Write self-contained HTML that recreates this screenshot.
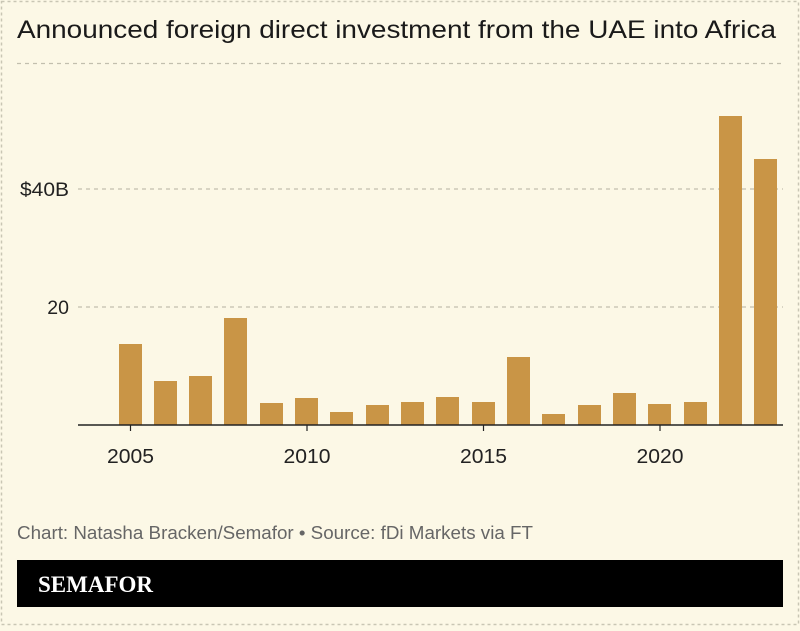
<!DOCTYPE html>
<html><head><meta charset="utf-8"><style>
body{margin:0;width:800px;height:626px;background:#fcf8e6;overflow:hidden;font-family:"Liberation Sans",sans-serif;}
</style></head><body>
<svg width="800" height="626" viewBox="0 0 800 626" xmlns="http://www.w3.org/2000/svg">
<rect x="1.5" y="1.5" width="797" height="623" fill="#fcf8e6" stroke="#c9c6b4" stroke-width="1.5" stroke-dasharray="3,3"/>
<text x="17" y="38" font-size="25" fill="#1a1a1a" textLength="759" lengthAdjust="spacingAndGlyphs">Announced foreign direct investment from the UAE into Africa</text>
<line x1="17" y1="63.5" x2="783" y2="63.5" stroke="#c2bfae" stroke-width="1.2" stroke-dasharray="4,4"/>
<g stroke="#c2bfae" stroke-width="1.2" stroke-dasharray="4,4">
<line x1="78" y1="189" x2="783" y2="189"/>
<line x1="78" y1="307" x2="783" y2="307"/>
</g>
<g font-size="19.5" fill="#222" text-anchor="end">
<text x="69" y="196" textLength="49" lengthAdjust="spacingAndGlyphs">$40B</text>
<text x="69" y="314">20</text>
</g>
<g fill="#c99546">
<rect x="119" y="344" width="23" height="81"/>
<rect x="154" y="381" width="23" height="44"/>
<rect x="189" y="376" width="23" height="49"/>
<rect x="224" y="318" width="23" height="107"/>
<rect x="260" y="403" width="23" height="22"/>
<rect x="295" y="398" width="23" height="27"/>
<rect x="330" y="412" width="23" height="13"/>
<rect x="366" y="405" width="23" height="20"/>
<rect x="401" y="402" width="23" height="23"/>
<rect x="436" y="397" width="23" height="28"/>
<rect x="472" y="402" width="23" height="23"/>
<rect x="507" y="357" width="23" height="68"/>
<rect x="542" y="414" width="23" height="11"/>
<rect x="578" y="405" width="23" height="20"/>
<rect x="613" y="393" width="23" height="32"/>
<rect x="648" y="404" width="23" height="21"/>
<rect x="684" y="402" width="23" height="23"/>
<rect x="719" y="116" width="23" height="309"/>
<rect x="754" y="159" width="23" height="266"/>
</g>
<line x1="78" y1="425" x2="783" y2="425" stroke="#222" stroke-width="1.5"/>
<g stroke="#222" stroke-width="1.2">
<line x1="130.5" y1="425" x2="130.5" y2="431"/>
<line x1="307" y1="425" x2="307" y2="431"/>
<line x1="483.5" y1="425" x2="483.5" y2="431"/>
<line x1="660" y1="425" x2="660" y2="431"/>
</g>
<g font-size="20" fill="#222" text-anchor="middle">
<text x="130.5" y="463" textLength="47" lengthAdjust="spacingAndGlyphs">2005</text>
<text x="307" y="463" textLength="47" lengthAdjust="spacingAndGlyphs">2010</text>
<text x="483.5" y="463" textLength="47" lengthAdjust="spacingAndGlyphs">2015</text>
<text x="660" y="463" textLength="47" lengthAdjust="spacingAndGlyphs">2020</text>
</g>
<text x="17" y="539" font-size="18" fill="#666" textLength="516" lengthAdjust="spacingAndGlyphs">Chart: Natasha Bracken/Semafor • Source: fDi Markets via FT</text>
<rect x="17" y="560" width="766" height="47" fill="#000"/>
<text x="38" y="592" font-size="23" font-weight="bold" fill="#fff" font-family="Liberation Serif, serif" textLength="115" lengthAdjust="spacingAndGlyphs">SEMAFOR</text>
</svg>
</body></html>
